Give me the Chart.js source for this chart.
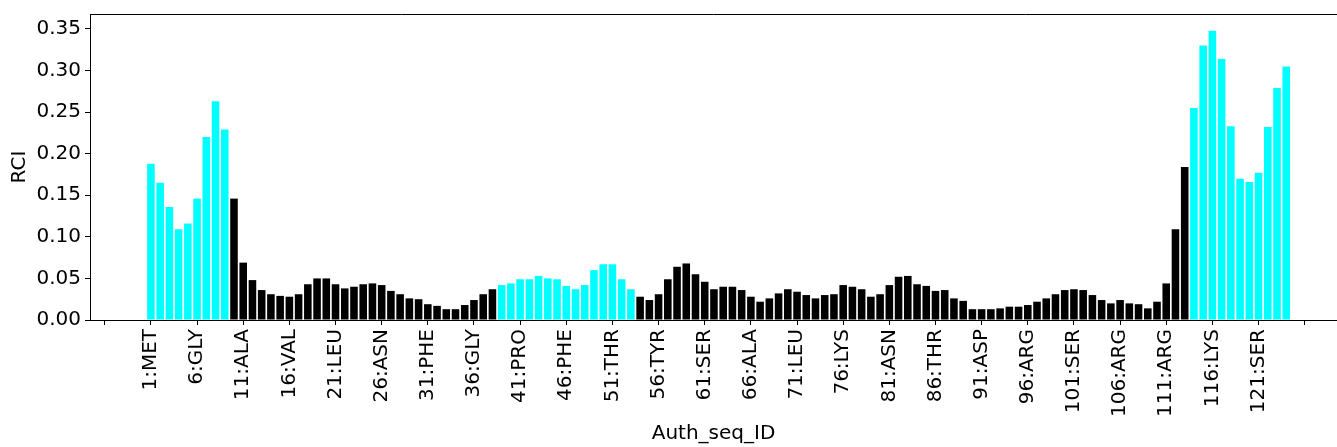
<!DOCTYPE html>
<html>
<head>
<meta charset="utf-8">
<script src="https://cdn.jsdelivr.net/npm/chart.js@4/dist/chart.umd.min.js"></script>
<style>
  body { margin: 0; background: #fff; }
</style>
</head>
<body>
<canvas id="rci-chart" width="1337" height="447"></canvas>
<script>
  // residue numbers 1..124, RCI value per residue
  var rciValues = [
      0.188, 0.165, 0.136, 0.109, 0.116, 0.146, 0.220, 0.263, 0.229, 0.146,
      0.069, 0.048, 0.036, 0.031, 0.029, 0.028, 0.031, 0.043, 0.050, 0.050,
      0.043, 0.038, 0.040, 0.043, 0.044, 0.042, 0.035, 0.031, 0.026, 0.025,
      0.019, 0.017, 0.013, 0.013, 0.018, 0.024, 0.031, 0.037, 0.042, 0.044,
      0.049, 0.049, 0.053, 0.050, 0.049, 0.041, 0.037, 0.042, 0.060, 0.067,
      0.067, 0.049, 0.037, 0.028, 0.024, 0.031, 0.049, 0.064, 0.068, 0.055,
      0.046, 0.037, 0.040, 0.040, 0.036, 0.028, 0.022, 0.026, 0.032, 0.037,
      0.034, 0.030, 0.026, 0.030, 0.031, 0.042, 0.040, 0.037, 0.028, 0.031,
      0.042, 0.052, 0.053, 0.043, 0.041, 0.035, 0.036, 0.026, 0.023, 0.013,
      0.013, 0.013, 0.014, 0.016, 0.016, 0.018, 0.022, 0.026, 0.031, 0.036,
      0.037, 0.036, 0.030, 0.024, 0.020, 0.024, 0.020, 0.019, 0.014, 0.022,
      0.044, 0.109, 0.184, 0.255, 0.330, 0.348, 0.314, 0.233, 0.170, 0.166,
      0.177, 0.232, 0.279, 0.305
  ];

  // residue ranges drawn in cyan (flexible regions)
  var flexibleRanges = [[1, 9], [39, 53], [114, 124]];

  // tick labels, every 5th residue starting at 1
  var tickLabels = [
      "1:MET", "6:GLY", "11:ALA", "16:VAL", "21:LEU", "26:ASN", "31:PHE",
      "36:GLY", "41:PRO", "46:PHE", "51:THR", "56:TYR", "61:SER", "66:ALA",
      "71:LEU", "76:LYS", "81:ASN", "86:THR", "91:ASP", "96:ARG", "101:SER",
      "106:ARG", "111:ARG", "116:LYS", "121:SER"
  ];

  function isFlexible(resNum) {
      for (var i = 0; i < flexibleRanges.length; i++) {
          if (resNum >= flexibleRanges[i][0] && resNum <= flexibleRanges[i][1]) return true;
      }
      return false;
  }

  var points = [];
  var colors = [];
  for (var i = 0; i < rciValues.length; i++) {
      points.push({x: i, y: rciValues[i]});
      colors.push(isFlexible(i + 1) ? "#00ffff" : "#000000");
  }

  Chart.defaults.font.family = "'DejaVu Sans', sans-serif";
  Chart.defaults.font.size = 20;
  Chart.defaults.color = "#000";

  // top spine, like the matplotlib frame
  var topSpine = {
      id: 'topSpine',
      afterDraw: function(chart) {
          var ctx = chart.ctx, a = chart.chartArea;
          ctx.save();
          ctx.strokeStyle = "#000";
          ctx.lineWidth = 1;
          ctx.beginPath();
          ctx.moveTo(a.left, a.top + 0.5);
          ctx.lineTo(a.right, a.top + 0.5);
          ctx.stroke();
          ctx.restore();
      }
  };

  var rciChartConfig = {
      type: 'bar',
      data: {
          datasets: [{
              data: points,
              backgroundColor: colors,
              borderWidth: 0,
              barPercentage: 0.82,
              categoryPercentage: 1.0
          }]
      },
      options: {
          responsive: false,
          animation: false,
          devicePixelRatio: 1,
          layout: { padding: { top: 14, left: 0, right: 0, bottom: 0 } },
          plugins: { legend: { display: false }, tooltip: { enabled: false } },
          scales: {
              x: {
                  type: 'linear',
                  min: -6.6,
                  max: 128.5,
                  offset: false,
                  afterFit: function(scale) { scale.height = 127; },
                  grid: { offset: false, drawOnChartArea: false, color: "#000", tickLength: 5 },
                  border: { color: "#000", width: 1 },
                  ticks: {
                      stepSize: 5,
                      includeBounds: false,
                      autoSkip: false,
                      minRotation: 90,
                      maxRotation: 90,
                      padding: 4,
                      callback: function(value) {
                          var k = Math.round(value / 5);
                          return (k >= 0 && k < tickLabels.length) ? tickLabels[k] : "";
                      }
                  },
                  title: { display: true, text: "Auth_seq_ID", padding: { top: 0, bottom: 1 } }
              },
              y: {
                  min: 0,
                  max: 0.368,
                  afterFit: function(scale) { scale.width = 90; },
                  grid: { drawOnChartArea: false, color: "#000", tickLength: 5 },
                  border: { color: "#000", width: 1 },
                  ticks: {
                      stepSize: 0.05,
                      includeBounds: false,
                      padding: 4,
                      font: { lineHeight: 1.0 },
                      callback: function(value) { return value.toFixed(2); }
                  },
                  title: { display: true, text: "RCI", padding: { top: 8, bottom: 0 } }
              }
          }
      },
      plugins: [topSpine]
  };

  window.onload = function() {
      var ctx = document.getElementById('rci-chart').getContext('2d');
      window.rciChart = new Chart(ctx, rciChartConfig);
  };
</script>
</body>
</html>
